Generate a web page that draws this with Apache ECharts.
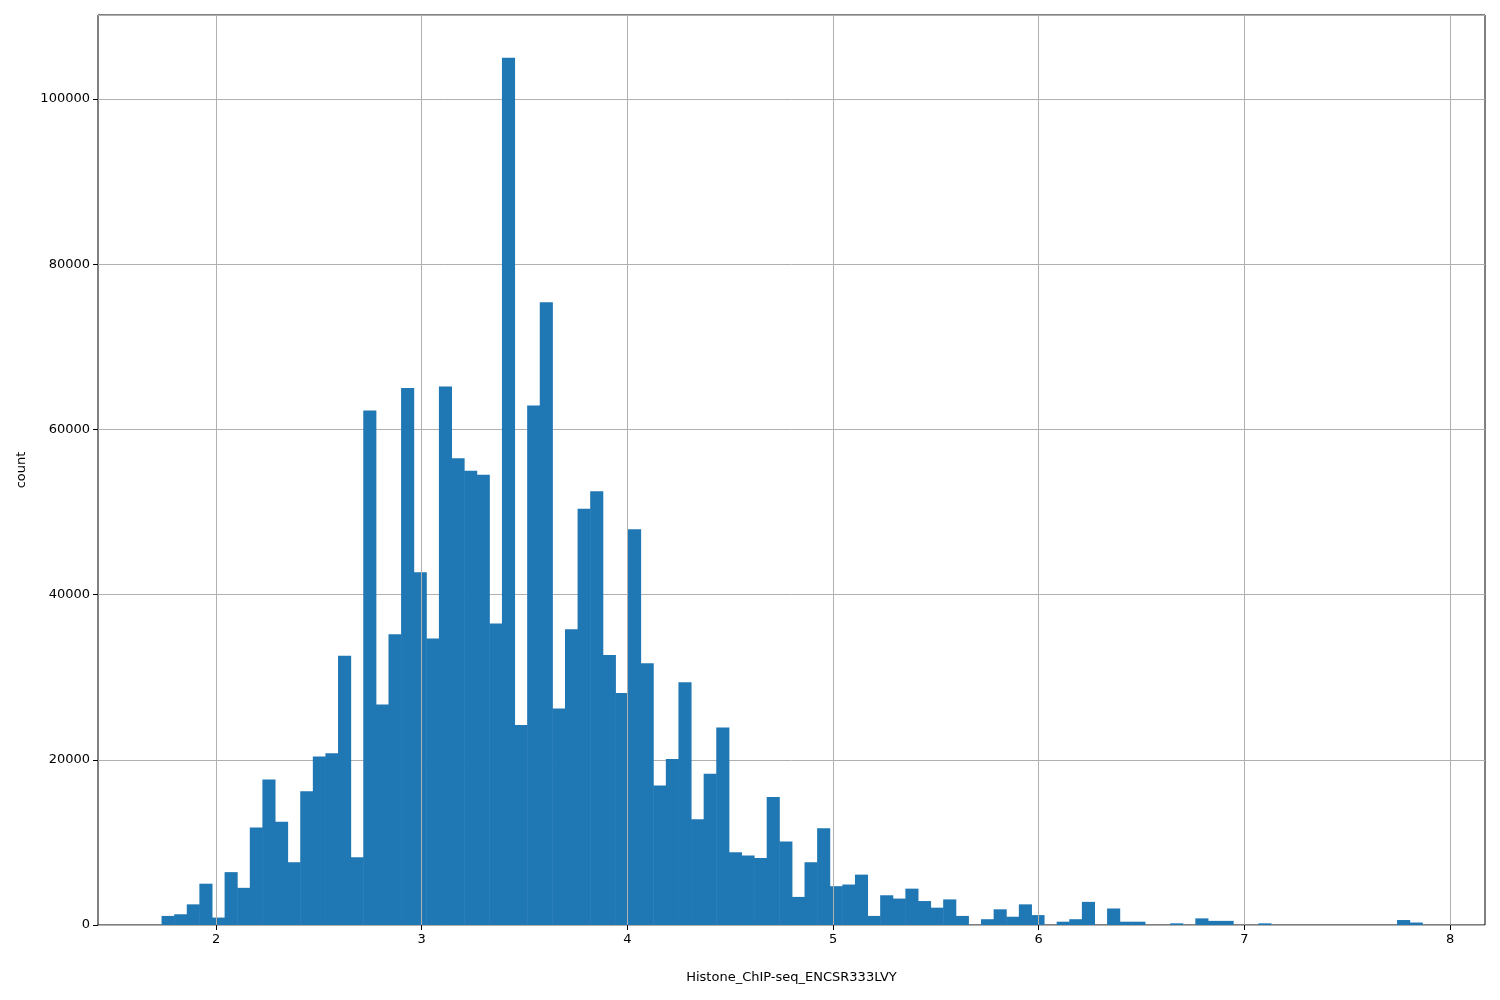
<html>
<head>
    <meta charset="utf-8">
    <title>ECharts</title>
    <script src="https://cdn.jsdelivr.net/npm/echarts@6/dist/echarts.min.js"></script>
</head>
<body style="margin:0">
    <div id="main" style="height:1000px;width:1500px;"></div>
    <script type="text/javascript">
    // histogram: 100 equal bins from binStart
    var binStart = 1.735, binWidth = 0.0613;
    var counts = [
      1100,1300,2500,5000,900,6400,4500,11800,17600,12500,
      7600,16200,20400,20800,32600,8200,62300,26700,35200,65000,
      42700,34700,65200,56500,55000,54500,36500,105000,24200,62900,
      75400,26200,35800,50400,52500,32700,28100,47900,31700,16900,
      20100,29400,12800,18300,23900,8800,8400,8100,15500,10100,
      3400,7600,11700,4700,4900,6100,1100,3600,3200,4400,
      2900,2100,3100,1100,0,700,1900,1000,2500,1200,
      0,400,700,2800,0,2000,400,400,0,0,
      200,0,800,500,500,0,0,200,0,0,
      0,0,0,0,0,0,0,0,600,300
    ];
    var xTicks = [2, 3, 4, 5, 6, 7, 8];

    var data = [];
    for (var i = 0; i < counts.length; i++) {
        data.push([binStart + i * binWidth, binStart + (i + 1) * binWidth, counts[i]]);
    }

    var myChart = echarts.init(document.getElementById('main'));
    var gridColor = '#b0b0b0';
    var option = {
        animation: false,
        textStyle: { fontFamily: 'DejaVu Sans', color: '#000' },
        grid: { left: 98, right: 15, top: 15, bottom: 75, show: true, borderColor: '#000', borderWidth: 1, backgroundColor: 'transparent' },
        xAxis: {
            type: 'value', min: 1.426, max: 8.17,
            name: 'Histone_ChIP-seq_ENCSR333LVY', nameLocation: 'middle', nameGap: 46,
            nameTextStyle: { fontSize: 13, color: '#000' },
            axisLine: { show: false },
            axisTick: { show: true, customValues: xTicks, length: 5, lineStyle: { color: '#000' } },
            axisLabel: { customValues: xTicks, fontSize: 13, color: '#000', margin: 8 },
            splitLine: { show: false }
        },
        yAxis: {
            type: 'value', min: 0, max: 110170, interval: 20000,
            name: 'count', nameLocation: 'middle', nameGap: 70,
            nameTextStyle: { fontSize: 13, color: '#000' },
            axisLine: { show: false },
            axisTick: { show: true, length: 5, lineStyle: { color: '#000' } },
            axisLabel: { fontSize: 13, color: '#000', margin: 8, showMaxLabel: false,
                formatter: function (v) { return String(v); } },
            splitLine: { show: true, lineStyle: { color: gridColor, width: 1 } }
        },
        series: [{
            type: 'custom',
            data: data,
            renderItem: function (params, api) {
                var p0 = api.coord([api.value(0), api.value(2)]);
                var p1 = api.coord([api.value(1), 0]);
                return {
                    type: 'rect',
                    shape: { x: p0[0], y: p0[1], width: p1[0] - p0[0] + 0.5, height: p1[1] - p0[1] },
                    style: { fill: '#1f77b4' }
                };
            },
            markLine: {
                silent: true, symbol: 'none', label: { show: false },
                lineStyle: { color: gridColor, type: 'solid', width: 1 },
                data: xTicks.map(function (t) { return { xAxis: t }; })
            }
        }]
    };
    myChart.setOption(option);
    </script>
</body>
</html>
